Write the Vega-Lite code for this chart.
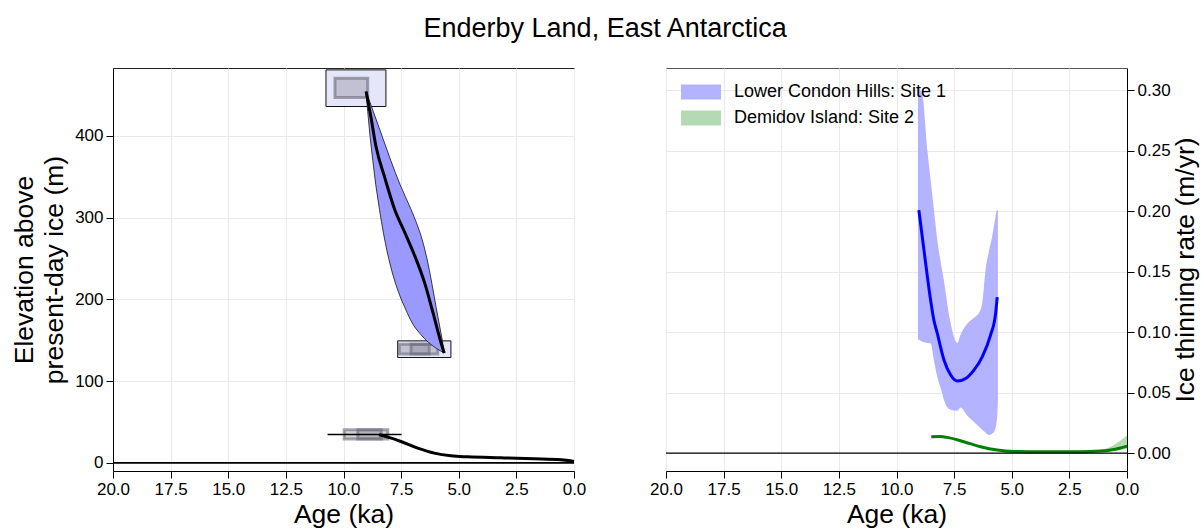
{
  "$schema": "https://vega.github.io/schema/vega-lite/v6.json",
  "background": "white",
  "padding": {"left": 11, "top": 14, "right": 2, "bottom": 4},
  "title": {"text": "Enderby Land, East Antarctica", "fontSize": 27, "fontWeight": "normal", "anchor": "middle", "frame": "bounds", "offset": 25, "color": "black"},
  "config": {
    "font": "Liberation Sans",
    "axis": {"labelFontSize": 17, "titleFontSize": 26.5, "titleFontWeight": "normal", "labelColor": "black", "titleColor": "black", "tickColor": "black", "domainColor": "black", "tickSize": 7, "gridColor": "#e9e9e9", "labelPadding": 3, "titlePadding": 4, "labelFlush": false, "labelOverlap": false, "labelFont": "Liberation Sans", "titleFont": "Liberation Sans"},
    "legend": {"labelFont": "Liberation Sans"}
  },
  "resolve": {"scale": {"color": "independent"}, "legend": {"color": "independent"}},
  "hconcat": [
    {
      "width": 461,
      "height": 403,
      "view": {"stroke": "#222"},
      "encoding": {
        "x": {"field": "age", "type": "quantitative", "title": "Age (ka)",
          "scale": {"domain": [0, 20], "reverse": true, "nice": false, "zero": false},
          "axis": {"values": [0, 2.5, 5, 7.5, 10, 12.5, 15, 17.5, 20], "format": ".1f"}},
        "y": {"field": "elev", "type": "quantitative", "title": ["Elevation above", "present-day ice (m)"],
          "scale": {"domain": [-10, 483], "nice": false, "zero": false},
          "axis": {"values": [0, 100, 200, 300, 400], "titleLineHeight": 30, "titlePadding": 6}}
      },
      "layer": [
        {
          "data": {"values": [
            {"age": 10.76, "age2": 8.16, "elev": 480.7, "elev2": 435.9},
            {"age": 7.65, "age2": 5.34, "elev": 149.2, "elev2": 128.8}
          ]},
          "mark": {"type": "rect", "fill": "#e6e6fa", "stroke": "#111", "strokeWidth": 1},
          "encoding": {"x2": {"field": "age2"}, "y2": {"field": "elev2"}}
        },
        {
          "data": {"values": [
            {"age": 10.37, "age2": 8.95, "elev": 470.6, "elev2": 446.9},
            {"age": 7.58, "age2": 6.28, "elev": 145.2, "elev2": 133.0},
            {"age": 7.07, "age2": 5.91, "elev": 145.2, "elev2": 133.0},
            {"age": 9.97, "age2": 8.36, "elev": 40.4, "elev2": 29.0},
            {"age": 9.38, "age2": 8.08, "elev": 40.4, "elev2": 29.0}
          ]},
          "mark": {"type": "rect", "fill": "#7a7a8a", "fillOpacity": 0.35, "stroke": "#6a6a7a", "strokeOpacity": 0.6, "strokeWidth": 3},
          "encoding": {"x2": {"field": "age2"}, "y2": {"field": "elev2"}}
        },
        {
          "data": {"values": [
            {"elev": 454.2, "age": 9.02, "age2": 9.02},
            {"elev": 430, "age": 8.95, "age2": 8.71},
            {"elev": 400, "age": 8.85, "age2": 8.33},
            {"elev": 370, "age": 8.73, "age2": 7.95},
            {"elev": 340, "age": 8.6, "age2": 7.54},
            {"elev": 310, "age": 8.44, "age2": 7.07},
            {"elev": 280, "age": 8.26, "age2": 6.66},
            {"elev": 250, "age": 8.04, "age2": 6.38},
            {"elev": 220, "age": 7.75, "age2": 6.17},
            {"elev": 190, "age": 7.34, "age2": 5.98},
            {"elev": 160, "age": 6.74, "age2": 5.78},
            {"elev": 140, "age": 5.97, "age2": 5.66},
            {"elev": 134.5, "age": 5.64, "age2": 5.64}
          ]},
          "mark": {"type": "area", "orient": "horizontal", "interpolate": "monotone", "fill": "#9999ff", "stroke": "#111", "strokeWidth": 0.8},
          "encoding": {"x2": {"field": "age2"}}
        },
        {
          "data": {"values": [
            {"age": 9.02, "elev": 454.2},
            {"age": 8.84, "elev": 427.8},
            {"age": 8.59, "elev": 386.9},
            {"age": 8.2, "elev": 348.0},
            {"age": 7.78, "elev": 310.0},
            {"age": 7.36, "elev": 283.0},
            {"age": 6.95, "elev": 256.0},
            {"age": 6.49, "elev": 221.0},
            {"age": 6.13, "elev": 185.0},
            {"age": 5.8, "elev": 150.0},
            {"age": 5.63, "elev": 134.2}
          ]},
          "mark": {"type": "line", "interpolate": "monotone", "color": "black", "strokeWidth": 3}
        },
        {
          "data": {"values": [
            {"age": 3.0, "elev": 6.6, "elev2": 5.4},
            {"age": 2.0, "elev": 6.0, "elev2": 4.2},
            {"age": 1.0, "elev": 5.6, "elev2": 2.8},
            {"age": 0.5, "elev": 5.0, "elev2": 2.0},
            {"age": 0.0, "elev": 3.4, "elev2": 0.2}
          ]},
          "mark": {"type": "area", "interpolate": "monotone", "fill": "#333", "opacity": 0.6},
          "encoding": {"y2": {"field": "elev2"}}
        },
        {
          "data": {"values": [
            {"age": 8.46, "elev": 34.3},
            {"age": 8.0, "elev": 30.8},
            {"age": 7.51, "elev": 26.1},
            {"age": 6.78, "elev": 18.0},
            {"age": 6.06, "elev": 11.9},
            {"age": 5.34, "elev": 8.6},
            {"age": 4.61, "elev": 7.3},
            {"age": 3.17, "elev": 6.1},
            {"age": 1.72, "elev": 4.9},
            {"age": 0.56, "elev": 3.7},
            {"age": 0.0, "elev": 1.6}
          ]},
          "mark": {"type": "line", "interpolate": "monotone", "color": "black", "strokeWidth": 3}
        },
        {
          "data": {"values": [
            {"age": 10.69, "age2": 7.48, "elev": 34.6},
            {"age": 20, "age2": 0, "elev": 0}
          ]},
          "mark": {"type": "rule", "color": "black", "strokeWidth": 1.6},
          "encoding": {"x2": {"field": "age2"}}
        }
      ]
    },
    {
      "width": 461,
      "height": 403,
      "view": {"stroke": "#555"},
      "encoding": {
        "x": {"field": "age", "type": "quantitative", "title": "Age (ka)",
          "scale": {"domain": [0, 20], "reverse": true, "nice": false, "zero": false},
          "axis": {"values": [0, 2.5, 5, 7.5, 10, 12.5, 15, 17.5, 20], "format": ".1f"}},
        "y": {"field": "val", "type": "quantitative", "title": "Ice thinning rate (m/yr)",
          "scale": {"domain": [-0.0148, 0.3183], "nice": false, "zero": false},
          "axis": {"orient": "right", "values": [0, 0.05, 0.1, 0.15, 0.2, 0.25, 0.3], "format": ".2f", "titlePadding": 2, "titleAngle": 270, "titleBaseline": "top"}}
      },
      "layer": [
        {
          "data": {"values": [
            {"site": "Lower Condon Hills: Site 1", "age": 9.07, "val": 0.094, "val2": 0.302},
            {"site": "Lower Condon Hills: Site 1", "age": 8.88, "val": 0.092, "val2": 0.296},
            {"site": "Lower Condon Hills: Site 1", "age": 8.66, "val": 0.091, "val2": 0.25},
            {"site": "Lower Condon Hills: Site 1", "age": 8.52, "val": 0.0907, "val2": 0.226},
            {"site": "Lower Condon Hills: Site 1", "age": 8.37, "val": 0.076, "val2": 0.2},
            {"site": "Lower Condon Hills: Site 1", "age": 8.23, "val": 0.063, "val2": 0.176},
            {"site": "Lower Condon Hills: Site 1", "age": 8.01, "val": 0.049, "val2": 0.15},
            {"site": "Lower Condon Hills: Site 1", "age": 7.94, "val": 0.0438, "val2": 0.142},
            {"site": "Lower Condon Hills: Site 1", "age": 7.68, "val": 0.036, "val2": 0.11},
            {"site": "Lower Condon Hills: Site 1", "age": 7.36, "val": 0.035, "val2": 0.091},
            {"site": "Lower Condon Hills: Site 1", "age": 7.22, "val": 0.0376, "val2": 0.098},
            {"site": "Lower Condon Hills: Site 1", "age": 6.93, "val": 0.031, "val2": 0.107},
            {"site": "Lower Condon Hills: Site 1", "age": 6.57, "val": 0.0245, "val2": 0.113},
            {"site": "Lower Condon Hills: Site 1", "age": 6.43, "val": 0.022, "val2": 0.1155},
            {"site": "Lower Condon Hills: Site 1", "age": 6.27, "val": 0.019, "val2": 0.126},
            {"site": "Lower Condon Hills: Site 1", "age": 6.14, "val": 0.017, "val2": 0.151},
            {"site": "Lower Condon Hills: Site 1", "age": 6.01, "val": 0.015, "val2": 0.165},
            {"site": "Lower Condon Hills: Site 1", "age": 5.85, "val": 0.016, "val2": 0.179},
            {"site": "Lower Condon Hills: Site 1", "age": 5.75, "val": 0.018, "val2": 0.19},
            {"site": "Lower Condon Hills: Site 1", "age": 5.63, "val": 0.03, "val2": 0.201},
            {"site": "Lower Condon Hills: Site 1", "age": 5.6, "val": 0.045, "val2": 0.201},
            {"site": "Demidov Island: Site 2", "age": 8.49, "val": 0.0128, "val2": 0.0142},
            {"site": "Demidov Island: Site 2", "age": 7.8, "val": 0.0123, "val2": 0.0137},
            {"site": "Demidov Island: Site 2", "age": 7.08, "val": 0.0088, "val2": 0.01},
            {"site": "Demidov Island: Site 2", "age": 6.35, "val": 0.0047, "val2": 0.0057},
            {"site": "Demidov Island: Site 2", "age": 5.63, "val": 0.0021, "val2": 0.0029},
            {"site": "Demidov Island: Site 2", "age": 4.91, "val": 0.001, "val2": 0.0018},
            {"site": "Demidov Island: Site 2", "age": 3.46, "val": 0.0007, "val2": 0.0015},
            {"site": "Demidov Island: Site 2", "age": 2.02, "val": 0.0007, "val2": 0.0016},
            {"site": "Demidov Island: Site 2", "age": 1.5, "val": 0.0009, "val2": 0.0022},
            {"site": "Demidov Island: Site 2", "age": 1.0, "val": 0.0012, "val2": 0.0032},
            {"site": "Demidov Island: Site 2", "age": 0.5, "val": 0.002, "val2": 0.0075},
            {"site": "Demidov Island: Site 2", "age": 0.0, "val": 0.0035, "val2": 0.0145}
          ]},
          "mark": {"type": "area", "interpolate": "monotone"},
          "encoding": {
            "y2": {"field": "val2"},
            "color": {"field": "site", "type": "nominal",
              "scale": {"domain": ["Lower Condon Hills: Site 1", "Demidov Island: Site 2"], "range": ["#b3b3ff", "#b3dab3"]},
              "legend": {"title": null, "orient": "top-left", "offset": 15, "padding": 0,
                "symbolType": "M-1,-0.375H1V0.375H-1Z", "symbolSize": 1600, "clipHeight": 18,
                "labelFontSize": 18, "labelColor": "black", "labelOffset": 13, "labelLimit": 400, "rowPadding": 8, "symbolStrokeWidth": 0, "symbolOpacity": 1}}
          }
        },
        {
          "data": {"values": [
            {"age": 9.03, "val": 0.2008},
            {"age": 8.81, "val": 0.168},
            {"age": 8.52, "val": 0.1264},
            {"age": 8.38, "val": 0.11},
            {"age": 8.23, "val": 0.099},
            {"age": 7.94, "val": 0.0769},
            {"age": 7.65, "val": 0.0645},
            {"age": 7.36, "val": 0.0595},
            {"age": 7.0, "val": 0.0617},
            {"age": 6.64, "val": 0.0686},
            {"age": 6.28, "val": 0.0796},
            {"age": 5.92, "val": 0.0975},
            {"age": 5.7, "val": 0.1155},
            {"age": 5.63, "val": 0.129}
          ]},
          "mark": {"type": "line", "interpolate": "monotone", "color": "#0000ff", "strokeWidth": 3}
        },
        {
          "data": {"values": [
            {"age": 8.49, "val": 0.0135},
            {"age": 8.1, "val": 0.0137},
            {"age": 7.8, "val": 0.013},
            {"age": 7.08, "val": 0.0094},
            {"age": 6.35, "val": 0.0052},
            {"age": 5.63, "val": 0.0025},
            {"age": 4.91, "val": 0.0014},
            {"age": 3.46, "val": 0.0011},
            {"age": 2.02, "val": 0.0011},
            {"age": 1.15, "val": 0.0017},
            {"age": 0.58, "val": 0.003},
            {"age": 0.0, "val": 0.0058}
          ]},
          "mark": {"type": "line", "interpolate": "monotone", "color": "#008000", "strokeWidth": 3}
        },
        {
          "data": {"values": [{"age": 20, "age2": 0, "val": 0}]},
          "mark": {"type": "rule", "color": "black", "strokeWidth": 1.2},
          "encoding": {"x2": {"field": "age2"}}
        }
      ]
    }
  ],
  "spacing": 92,
  "bounds": "flush"
}
